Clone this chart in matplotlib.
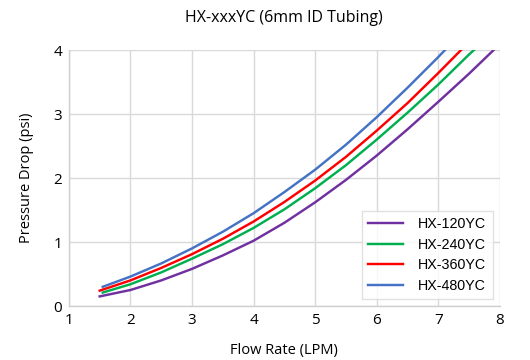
import matplotlib
matplotlib.use("Agg")
import matplotlib.pyplot as plt

# values (psi at given LPM)
series_names = ["HX-120YC", "HX-240YC", "HX-360YC", "HX-480YC"]
series_colors = ["#7030A0", "#00B050", "#FF0000", "#4472C4"]

flow_120 = [1.5, 2.0, 2.5, 3.0, 3.5, 4.0, 4.5, 5.0, 5.5, 6.0, 6.5, 7.0, 7.5, 7.9]
dp_120 = [0.15, 0.25, 0.40, 0.58, 0.79, 1.02, 1.30, 1.62, 1.97, 2.35, 2.76, 3.19, 3.63, 4.0]

flow_240 = [1.55, 2.0, 2.5, 3.0, 3.5, 4.0, 4.5, 5.0, 5.5, 6.0, 6.5, 7.0, 7.5, 7.58]
dp_240 = [0.21, 0.34, 0.525, 0.74, 0.965, 1.22, 1.51, 1.84, 2.20, 2.60, 3.02, 3.46, 3.93, 4.0]

flow_360 = [1.5, 2.0, 2.5, 3.0, 3.5, 4.0, 4.5, 5.0, 5.5, 6.0, 6.5, 7.0, 7.37]
dp_360 = [0.24, 0.40, 0.595, 0.81, 1.05, 1.32, 1.625, 1.96, 2.33, 2.74, 3.17, 3.64, 4.0]

flow_480 = [1.55, 2.0, 2.5, 3.0, 3.5, 4.0, 4.5, 5.0, 5.5, 6.0, 6.5, 7.0, 7.11]
dp_480 = [0.30, 0.46, 0.665, 0.90, 1.16, 1.45, 1.78, 2.13, 2.52, 2.95, 3.41, 3.89, 4.0]

x_ticks = [1, 2, 3, 4, 5, 6, 7, 8]
y_ticks = [0, 1, 2, 3, 4]

flows = [flow_120, flow_240, flow_360, flow_480]
drops = [dp_120, dp_240, dp_360, dp_480]

plt.rcParams["font.family"] = ["Open Sans", "DejaVu Sans"]

fig = plt.figure(figsize=(5.3, 3.6), dpi=100)
ax = fig.add_axes([0.130, 0.150, 0.813, 0.711])

for x, y, name, c in zip(flows, drops, series_names, series_colors):
    ax.plot(x, y, color=c, linewidth=1.75, label=name, solid_joinstyle="round")

ax.set_xlim(1, 8)
ax.set_ylim(0, 4)
ax.set_xticks(x_ticks)
ax.set_yticks(y_ticks)
ax.tick_params(length=0, labelsize=11, colors="#000000", pad=5)

ax.grid(True, color="#d9d9d9", linewidth=1.0)
ax.set_axisbelow(True)
for s in ["top", "right"]:
    ax.spines[s].set_visible(False)
for s in ["left", "bottom"]:
    ax.spines[s].set_color("#cfcfcf")
    ax.spines[s].set_linewidth(1.0)

ax.set_title("HX-xxxYC (6mm ID Tubing)", fontsize=11.5, pad=20)
ax.set_xlabel("Flow Rate (LPM)", fontsize=10.5, labelpad=11)
ax.set_ylabel("Pressure Drop (psi)", fontsize=10.5, labelpad=14)

leg = ax.legend(loc="lower right", bbox_to_anchor=(0.984, 0.027), borderaxespad=0,
                prop={"family": "Liberation Sans", "size": 10.3},
                frameon=True, fancybox=False, handlelength=2.4,
                handletextpad=1.1, labelspacing=0.45, borderpad=0.45)
leg.get_frame().set_edgecolor("#d9d9d9")
leg.get_frame().set_linewidth(1.0)

fig.savefig("out.png", dpi=100)
